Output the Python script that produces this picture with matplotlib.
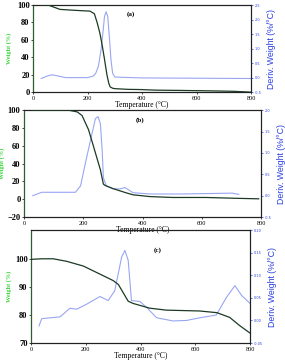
import numpy as np
import matplotlib
matplotlib.use('Agg')
import matplotlib.pyplot as plt

# ---------------- data ----------------
# panel (a)
Ta_w = [30, 55, 99, 150, 209, 225, 235, 245, 253, 262, 271, 278, 283, 292, 301, 350, 393, 450, 539, 650, 734, 800]
Wa = [100, 100, 95, 94, 93, 90, 80, 68, 55, 38, 20, 10, 6, 4.5, 4, 3.2, 3, 2.3, 2, 1.5, 1, 0]
Ta_d = [30, 50, 70, 90, 120, 200, 220, 230, 240, 250, 258, 262, 268, 274, 280, 286, 292, 300, 400, 600, 800]
Da = [-0.03, 0.05, 0.1, 0.06, 0.0, 0.0, 0.05, 0.15, 0.4, 1.0, 1.7, 2.1, 2.27, 2.1, 1.4, 0.6, 0.15, 0.02, -0.01, -0.02, -0.03]

# panel (b)
Tb_w = [30, 100, 150, 180, 196, 218, 235, 258, 268, 274, 300, 347, 368, 425, 503, 614, 725, 792]
Wb = [100, 100, 100, 98, 94, 78, 59, 33, 17, 15.5, 12, 7, 5, 3, 2, 2, 1, 0.5]
Tb_d = [30, 60, 100, 170, 174, 191, 207, 224, 241, 250, 258, 264, 268, 278, 301, 324, 341, 368, 425, 536, 703, 725]
Db = [0.0, 0.08, 0.08, 0.08, 0.08, 0.23, 0.75, 1.28, 1.8, 1.85, 1.68, 1.05, 0.42, 0.23, 0.16, 0.16, 0.19, 0.07, 0.04, 0.04, 0.06, 0.03]

# panel (c)
Tc_w = [0, 40, 81, 130, 191, 252, 300, 319, 337, 355, 373, 434, 495, 616, 679, 726, 762, 800]
Wc = [100, 100.2, 100.2, 99.3, 97.6, 94.7, 92.4, 91, 88, 85, 84.2, 82.5, 81.8, 81.5, 80.9, 79.2, 76.3, 73.6]
Tc_d = [29, 39, 106, 142, 167, 203, 252, 282, 306, 331, 343, 355, 367, 398, 422, 459, 518, 568, 617, 677, 714, 745, 770, 800]
Dc = [-0.012, 0.004, 0.008, 0.027, 0.025, 0.036, 0.053, 0.044, 0.066, 0.14, 0.155, 0.133, 0.044, 0.042,
      0.029, 0.006, -0.001, 0.0, 0.006, 0.012, 0.051, 0.077, 0.055, 0.038]

# ---------------- style ----------------
wcol = '#1c3a24'
dcol = '#99a6f2'
lab_green = '#3fd43f'
lab_blue = '#2a3fe0'
serif = ['Liberation Serif', 'DejaVu Serif']

fig = plt.figure(figsize=(2.85, 3.6), dpi=100)

panels = [
    # rect, Tw, W, Td, D, wlim, wticks, dlim, dticks, tag, tagpos, ylabel x
    ([0.116, 0.744, 0.765, 0.242], Ta_w, Wa, Ta_d, Da, (0, 100), [0, 20, 40, 60, 80, 100],
     (-0.5, 2.5), [-0.5, 0.0, 0.5, 1.0, 1.5, 2.0, 2.5], '(a)', (0.45, 0.9), -0.096),
    ([0.084, 0.397, 0.832, 0.297], Tb_w, Wb, Tb_d, Db, (-20, 100), [-20, 0, 20, 40, 60, 80, 100],
     (-0.5, 2.0), [-0.5, 0.0, 0.5, 1.0, 1.5, 2.0], '(b)', (0.49, 0.91), -0.078),
    ([0.109, 0.047, 0.768, 0.314], Tc_w, Wc, Tc_d, Dc, (70, 110.5), [70, 80, 90, 100],
     (-0.05, 0.20), [-0.05, 0.0, 0.05, 0.10, 0.15, 0.20], '(c)', (0.58, 0.82), -0.087),
]

for rect, Tw, W, Td, D, wlim, wticks, dlim, dticks, tag, tagpos, labx in panels:
    ax = fig.add_axes(rect)
    ax2 = ax.twinx()
    ax.plot(Tw, W, color=wcol, lw=0.9, zorder=3)
    ax2.plot(Td, D, color=dcol, lw=0.8)
    ax.set_zorder(ax2.get_zorder() + 1)
    ax.patch.set_visible(False)

    ax.set_xlim(0, 800)
    ax.set_ylim(*wlim)
    ax.set_yticks(wticks)
    ax.set_xticks([0, 200, 400, 600, 800])
    ax2.set_ylim(*dlim)
    ax2.set_yticks(dticks)
    ax2.set_yticklabels([f'{v:.1f}' if dlim[1] > 1 else f'{v:.2f}' for v in dticks])

    ax.tick_params(axis='y', labelsize=6, length=1.5, width=0.5, pad=1, colors='black')
    for t in ax.get_yticklabels():
        t.set_fontfamily(serif)
        t.set_fontweight('bold')
    ax.tick_params(axis='x', labelsize=4.5, length=1.5, width=0.5, pad=1)
    for t in ax.get_xticklabels():
        t.set_fontfamily(serif)
    ax2.tick_params(axis='y', labelsize=2.5, length=1.5, width=0.5, pad=1,
                    colors=lab_blue)

    for sp in ax.spines.values():
        sp.set_linewidth(0.8)
        sp.set_color('#222222')
    ax.spines['left'].set_color('#2f5f2f')
    ax2.spines['right'].set_color('#1d2a6a')
    ax2.spines['right'].set_linewidth(0.8)

    ax.set_xlabel('Temperature (°C)', fontsize=5.5, family=serif, labelpad=0)
    ax.set_ylabel('Weight (%)', fontsize=4.5, family=serif, fontweight='bold',
                  color=lab_green)
    ax.yaxis.set_label_coords(labx, 0.5)
    ax2.set_ylabel('Deriv. Weight (%/°C)', fontsize=6.3, family=['Liberation Sans', 'DejaVu Sans'],
                   color=lab_blue, labelpad=4)
    ax.text(tagpos[0], tagpos[1], tag, transform=ax.transAxes, fontsize=5,
            family=serif, fontweight='bold', ha='center', va='center')

fig.savefig('out.png', dpi=100)
